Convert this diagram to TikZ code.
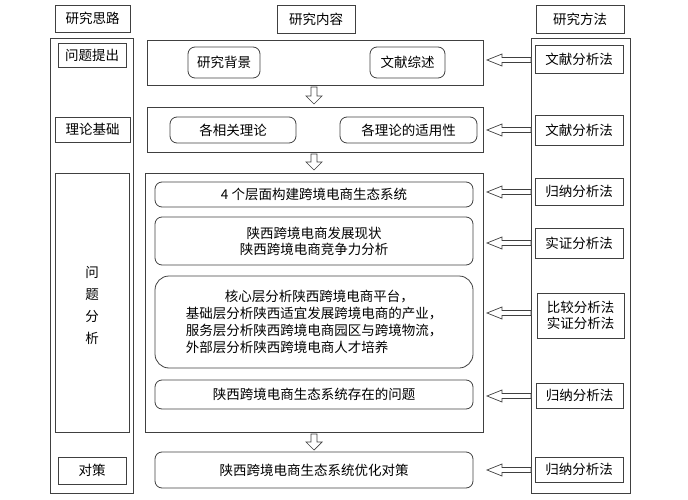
\documentclass[tikz,border=0pt]{standalone}
\usepackage{fontspec}
\newfontfamily\cjk{Noto Sans CJK SC}
\begin{document}
\begin{tikzpicture}[x=1pt,y=-1pt,
  sq/.style={draw=black!75,line width=0.8pt},
  rd/.style={draw=black!75,line width=0.8pt,rounded corners=7pt},
  tx/.style={font=\cjk\fontsize{13.5}{16}\selectfont,align=center,inner sep=0pt},
  ha/.style={draw=black!75,line width=0.7pt,fill=white}]
\useasboundingbox (0,0) rectangle (688,500);
\newcommand{\boxn}[6]{\draw[#1] (#2,#3) rectangle (#4,#5); \node[tx] at ({(#2+#4)/2},{(#3+#5)/2}) {#6};}
\newcommand{\larr}[1]{\draw[ha] (487,#1) -- (502,#1-6) -- (502,#1-2.5) -- (531,#1-2.5) -- (531,#1+2.5) -- (502,#1+2.5) -- (502,#1+6) -- cycle;}
\newcommand{\darr}[2]{\draw[ha] (314,#2) -- (306,#2-8) -- (311,#2-8) -- (311,#1) -- (317,#1) -- (317,#2-8) -- (322,#2-8) -- cycle;}
% headers
\boxn{sq}{55}{5}{130}{32}{研究思路}
\boxn{sq}{277}{5}{355}{33}{研究内容}
\boxn{sq}{536}{5}{624}{33}{研究方法}
% left column
\draw[sq] (50,38) rectangle (133,493);
\boxn{sq}{58}{43}{126}{67}{问题提出}
\boxn{sq}{55}{117}{130}{142}{理论基础}
\draw[sq] (55,173) rectangle (129,432);
\node[tx] at (92,305) {问\\[6pt]题\\[6pt]分\\[6pt]析};
\boxn{sq}{58}{457}{126}{484}{对策}
% middle
\draw[sq] (147,40) rectangle (483,85);
\boxn{rd}{188}{47}{260}{78}{研究背景}
\boxn{rd}{370}{47}{445}{78}{文献综述}
\darr{87}{104}
\draw[sq] (147,107) rectangle (483,152);
\boxn{rd}{170}{117}{296}{143}{各相关理论}
\boxn{rd}{340}{117}{477}{143}{各理论的适用性}
\darr{154}{170}
\draw[sq] (145,173) rectangle (483,432);
\boxn{rd}{155}{182}{473}{207}{4 个层面构建跨境电商生态系统}
\boxn{rd}{155}{217}{473}{265}{陕西跨境电商发展现状\\陕西跨境电商竞争力分析}
\draw[rd,rounded corners=14pt] (155,276) rectangle (473,368);
\node[tx,align=left,font=\cjk\fontsize{13.5}{17}\selectfont] at (314,322) {\hspace*{2.9em}核心层分析陕西跨境电商平台，\\基础层分析陕西适宜发展跨境电商的产业，\\服务层分析陕西跨境电商园区与跨境物流，\\外部层分析陕西跨境电商人才培养};
\boxn{rd}{155}{380}{473}{409}{陕西跨境电商生态系统存在的问题}
\darr{434}{450}
\boxn{rd}{155}{452}{473}{488}{陕西跨境电商生态系统优化对策}
% right
\draw[sq] (531,38) rectangle (630,493);
\boxn{sq}{535}{45}{623}{73}{文献分析法}
\boxn{sq}{535}{115}{623}{145}{文献分析法}
\boxn{sq}{535}{178}{623}{205}{归纳分析法}
\boxn{sq}{535}{228}{623}{258}{实证分析法}
\boxn{sq}{537}{293}{624}{338}{比较分析法\\实证分析法}
\boxn{sq}{536}{383}{623}{408}{归纳分析法}
\boxn{sq}{535}{457}{623}{482}{归纳分析法}
\larr{60}\larr{130}\larr{192}\larr{243}\larr{313}\larr{396}\larr{470}
\end{tikzpicture}
\end{document}
